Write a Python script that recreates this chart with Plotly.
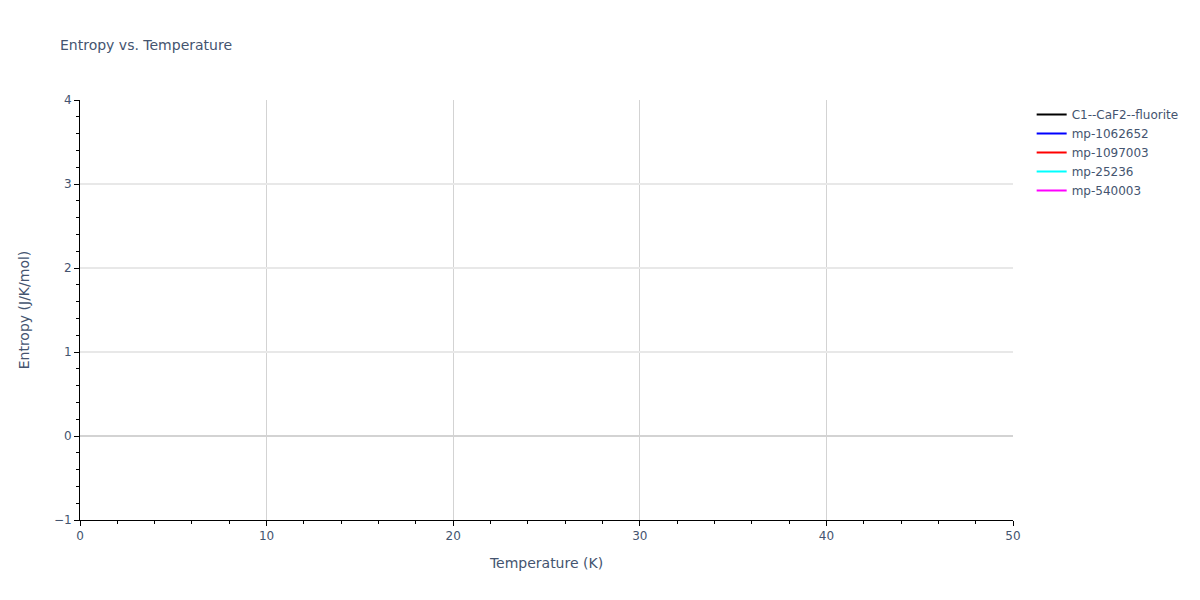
import plotly.graph_objects as go

# Series shown in the legend; no points fall inside the visible window
series_names = ['C1--CaF2--fluorite', 'mp-1062652', 'mp-1097003', 'mp-25236', 'mp-540003']
series_colors = ['black', 'blue', 'red', 'cyan', 'magenta']
temperatures = [[None], [None], [None], [None], [None]]
entropies = [[None], [None], [None], [None], [None]]

x_range = [0, 50]
y_range = [-1, 4]

fig = go.Figure()
for name, color, t, s in zip(series_names, series_colors, temperatures, entropies):
    fig.add_trace(go.Scatter(x=t, y=s, mode='lines', name=name,
                             line=dict(color=color, width=2)))

# page body adds an 8px offset, so size/margins are trimmed to compensate
fig.update_layout(
    width=1192, height=592,
    margin=dict(l=72, r=187, t=92, b=80),
    title=dict(text='Entropy vs. Temperature', font=dict(size=14),
               x=52 / 1192, xanchor='left', y=1 - 37 / 592, yanchor='middle'),
    template='plotly_white',
    font=dict(family='DejaVu Sans, Verdana, sans-serif', color='#44546f'),
    showlegend=True,
    xaxis=dict(
        title='Temperature (K)', range=x_range,
        showline=True, linecolor='black', linewidth=1,
        ticks='outside', tickcolor='black', dtick=10,
        gridcolor='lightgrey', zeroline=False,
        minor=dict(ticks='outside', dtick=2, tickcolor='black', showgrid=False),
    ),
    yaxis=dict(
        title=dict(text='Entropy (J/K/mol)', standoff=20), range=y_range,
        showline=True, linecolor='black', linewidth=1,
        ticks='outside', tickcolor='black', dtick=1,
        gridcolor='#e8e8e8', gridwidth=2,
        zeroline=True, zerolinecolor='lightgrey', zerolinewidth=2,
        minor=dict(ticks='outside', dtick=0.2, tickcolor='black', showgrid=False),
    ),
)

fig.write_html("out.html")
